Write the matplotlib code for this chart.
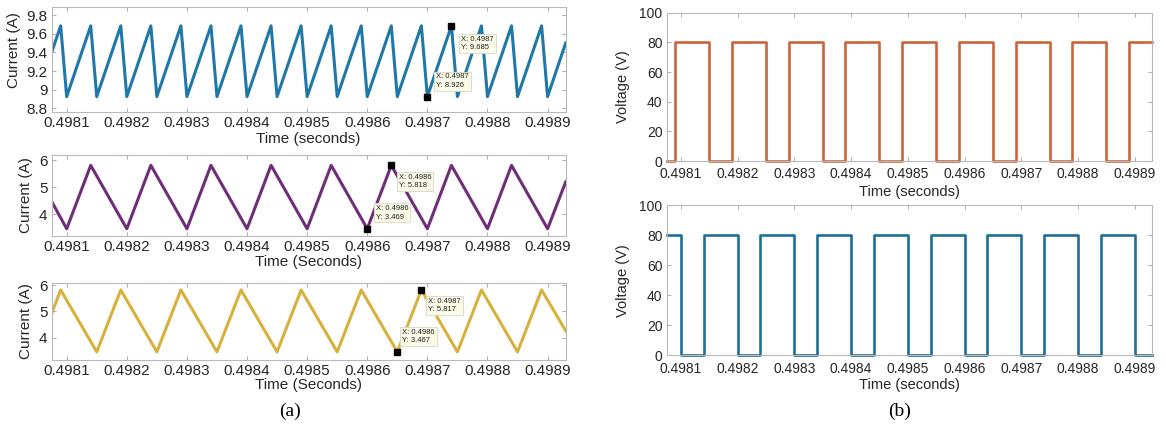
import matplotlib.pyplot as plt
from matplotlib.ticker import FixedLocator, FuncFormatter

plt.rcParams['font.family'] = ['Liberation Sans', 'DejaVu Sans']

# ---- data ----
x_ticks = [0.4981, 0.4982, 0.4983, 0.4984, 0.4985, 0.4986, 0.4987, 0.4988, 0.4989]
x_range = (0.498075, 0.49893)

# input current (corners of the sawtooth)
t_in = [0.498075, 0.49809, 0.49810, 0.49814, 0.49815, 0.49819, 0.49820, 0.49824,
        0.49825, 0.49829, 0.49830, 0.49834, 0.49835, 0.49839, 0.49840, 0.49844,
        0.49845, 0.49849, 0.49850, 0.49854, 0.49855, 0.49859, 0.49860, 0.49864,
        0.49865, 0.49869, 0.49870, 0.49874, 0.49875, 0.49879, 0.49880, 0.49884,
        0.49885, 0.49889, 0.49890, 0.49893]
i_in = [9.40, 9.685, 8.926, 9.685, 8.926, 9.685, 8.926, 9.685,
        8.926, 9.685, 8.926, 9.685, 8.926, 9.685, 8.926, 9.685,
        8.926, 9.685, 8.926, 9.685, 8.926, 9.685, 8.926, 9.685,
        8.926, 9.685, 8.926, 9.685, 8.926, 9.685, 8.926, 9.685,
        8.926, 9.685, 8.926, 9.50]

# inductor current 1
t_L1 = [0.498075, 0.49810, 0.49814, 0.49820, 0.49824, 0.49830, 0.49834, 0.49840,
        0.49844, 0.49850, 0.49854, 0.49860, 0.49864, 0.49870, 0.49874, 0.49880,
        0.49884, 0.49890, 0.49893]
i_L1 = [4.48, 3.469, 5.818, 3.469, 5.818, 3.469, 5.818, 3.469,
        5.818, 3.469, 5.818, 3.469, 5.818, 3.469, 5.818, 3.469,
        5.818, 3.469, 5.20]

# inductor current 2
t_L2 = [0.498075, 0.49809, 0.49815, 0.49819, 0.49825, 0.49829, 0.49835, 0.49839,
        0.49845, 0.49849, 0.49855, 0.49859, 0.49865, 0.49869, 0.49875, 0.49879,
        0.49885, 0.49889, 0.49893]
i_L2 = [4.92, 5.817, 3.467, 5.817, 3.467, 5.817, 3.467, 5.817,
        3.467, 5.817, 3.467, 5.817, 3.467, 5.817, 3.467, 5.817,
        3.467, 5.817, 4.27]

# switch voltages (step changes)
t_v1 = [0.498075, 0.49809, 0.49815, 0.49819, 0.49825, 0.49829, 0.49835, 0.49839,
        0.49845, 0.49849, 0.49855, 0.49859, 0.49865, 0.49869, 0.49875, 0.49879,
        0.49885, 0.49889, 0.49893]
v1 = [0, 80, 0, 80, 0, 80, 0, 80, 0, 80, 0, 80, 0, 80, 0, 80, 0, 80, 80]

t_v2 = [0.498075, 0.49810, 0.49814, 0.49820, 0.49824, 0.49830, 0.49834, 0.49840,
        0.49844, 0.49850, 0.49854, 0.49860, 0.49864, 0.49870, 0.49874, 0.49880,
        0.49884, 0.49890, 0.49893]
v2 = [80, 0, 80, 0, 80, 0, 80, 0, 80, 0, 80, 0, 80, 0, 80, 0, 80, 0, 0]

# data tips (time, value)
tips_in = [(0.49874, 9.685), (0.4987, 8.926)]
tips_L1 = [(0.49864, 5.818), (0.4986, 3.469)]
tips_L2 = [(0.49869, 5.817), (0.498649, 3.467)]

fig = plt.figure(figsize=(11.66, 4.34), dpi=100)

ax_in = fig.add_axes([0.0443, 0.7426, 0.4408, 0.2419])
ax_L1 = fig.add_axes([0.0443, 0.4562, 0.4408, 0.1866])
ax_L2 = fig.add_axes([0.0443, 0.1705, 0.4408, 0.1774])
ax_v1 = fig.add_axes([0.5718, 0.6290, 0.4160, 0.3417])
ax_v2 = fig.add_axes([0.5718, 0.1813, 0.4160, 0.3463])


def style(ax, fs):
    for s in ax.spines.values():
        s.set_color('#b8b8b8')
        s.set_linewidth(0.8)
    ax.tick_params(direction='in', top=True, right=True, length=3, width=0.6,
                   color='#a0a0a0', labelsize=fs, labelcolor='#262626', pad=3)
    ax.xaxis.set_major_locator(FixedLocator(x_ticks))
    ax.xaxis.set_major_formatter(FuncFormatter(lambda v, p: '%.4f' % v))
    ax.yaxis.set_major_formatter(FuncFormatter(lambda v, p: '%g' % round(v, 4)))
    ax.set_xlim(*x_range)


def datatip(ax, t, v, dx, dy, va):
    ax.plot([t], [v], marker='s', color='black', ms=3.8, zorder=5)
    ax.annotate("X: %.4f\nY: %.3f" % (t, v), xy=(t, v), xytext=(dx, dy),
                textcoords='offset points', fontsize=5.5, ha='left', va=va,
                linespacing=1.3, color='#202020',
                bbox=dict(boxstyle='square,pad=0.25', fc='#fbfbe8', ec='#d8d8c8', lw=0.6),
                zorder=6)


# (a) currents
ax_in.plot(t_in, i_in, color='#1f78a8', lw=2.2)
style(ax_in, 11)
ax_in.set_ylim(8.764, 9.89)
ax_in.yaxis.set_major_locator(FixedLocator([8.8, 9.0, 9.2, 9.4, 9.6, 9.8]))
ax_in.set_ylabel('Current (A)', fontsize=11, color='#262626')
ax_in.set_xlabel('Time (seconds)', fontsize=11, color='#262626')
ax_in.yaxis.set_label_coords(-0.060, 0.59)
ax_in.xaxis.set_label_coords(0.5, -0.19)
datatip(ax_in, *tips_in[0], 7, -7, 'top')
datatip(ax_in, *tips_in[1], 6.5, 5.5, 'bottom')

ax_L1.plot(t_L1, i_L1, color='#6e2f78', lw=2.2)
style(ax_L1, 11)
ax_L1.set_ylim(3.2, 6.2)
ax_L1.yaxis.set_major_locator(FixedLocator([4, 5, 6]))
ax_L1.set_ylabel('Current (A)', fontsize=11, color='#262626')
ax_L1.set_xlabel('Time (Seconds)', fontsize=11, color='#262626')
ax_L1.yaxis.set_label_coords(-0.036, 0.5)
ax_L1.xaxis.set_label_coords(0.5, -0.235)
datatip(ax_L1, *tips_L1[0], 5.5, -6.2, 'top')
datatip(ax_L1, *tips_L1[1], 6, 5.9, 'bottom')

ax_L2.plot(t_L2, i_L2, color='#d8b13c', lw=2.2)
style(ax_L2, 11)
ax_L2.set_ylim(3.16, 6.08)
ax_L2.yaxis.set_major_locator(FixedLocator([4, 5, 6]))
ax_L2.set_ylabel('Current (A)', fontsize=11, color='#262626')
ax_L2.set_xlabel('Time (Seconds)', fontsize=11, color='#262626')
ax_L2.yaxis.set_label_coords(-0.036, 0.5)
ax_L2.xaxis.set_label_coords(0.5, -0.234)
datatip(ax_L2, *tips_L2[0], 4.8, -5.5, 'top')
datatip(ax_L2, *tips_L2[1], 4.1, 5.5, 'bottom')

# (b) switch voltages
for ax, t, v, c in [(ax_v1, t_v1, v1, '#c9653a'), (ax_v2, t_v2, v2, '#1d6f97')]:
    ax.plot(t, v, color=c, lw=1.9, drawstyle='steps-post', clip_on=False)
    style(ax, 10)
    ax.tick_params(axis='x', pad=4.5)
    ax.set_ylim(0, 100)
    ax.yaxis.set_major_locator(FixedLocator([0, 20, 40, 60, 80, 100]))
    ax.set_ylabel('Voltage (V)', fontsize=10.5, color='#262626')
    ax.set_xlabel('Time (seconds)', fontsize=10.5, color='#262626')
    ax.yaxis.set_label_coords(-0.075, 0.5)
ax_v1.xaxis.set_label_coords(0.5, -0.16)
ax_v2.xaxis.set_label_coords(0.5, -0.15)

fig.text(290 / 1166, 1 - 411 / 434, '(a)', family=['Liberation Serif', 'DejaVu Serif'],
         fontsize=14, ha='center', va='center')
fig.text(900 / 1166, 1 - 411 / 434, '(b)', family=['Liberation Serif', 'DejaVu Serif'],
         fontsize=14, ha='center', va='center')

fig.savefig('out.png', dpi=100)
